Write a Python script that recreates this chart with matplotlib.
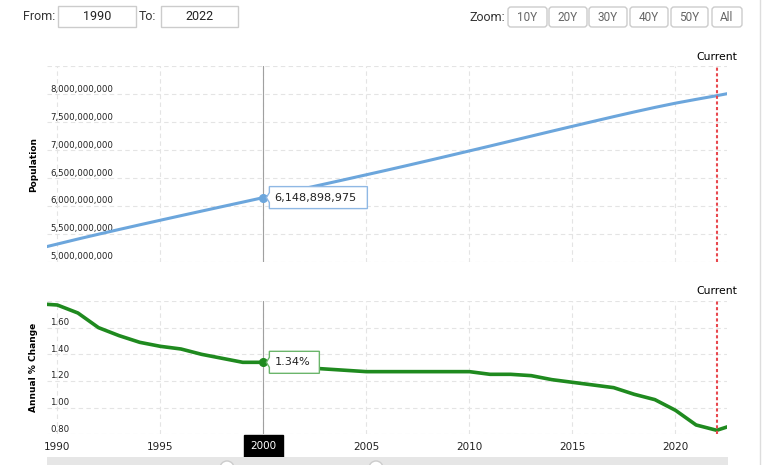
import matplotlib
matplotlib.use('Agg')
import matplotlib.pyplot as plt
from matplotlib.patches import Polygon, FancyBboxPatch, Rectangle, Circle
from matplotlib.transforms import Affine2D, IdentityTransform, offset_copy

# world population (UN WPP 2022) and annual % change
years = list(range(1989, 2024))
population = [
    5227000000, 5316175862, 5406245000, 5492686000, 5577433000, 5660727000,
    5743219454, 5825145000, 5906481000, 5987312000, 6067758000, 6148898975,
    6230746000, 6312407000, 6393898000, 6475751000, 6558176119, 6641416000,
    6725949000, 6811597000, 6898306000, 6985603000, 7073125000, 7161698000,
    7250593000, 7339013000, 7426598000, 7513474000, 7599822000, 7683790000,
    7764951000, 7840953000, 7909295151, 7975105156, 8045311447,
]
annual_change = [
    1.78, 1.77, 1.71, 1.60, 1.54, 1.49, 1.46, 1.44, 1.40, 1.37, 1.34,
    1.34, 1.32, 1.30, 1.29, 1.28, 1.27, 1.27, 1.27, 1.27, 1.27,
    1.27, 1.25, 1.25, 1.24, 1.21, 1.19, 1.17, 1.15, 1.10, 1.06,
    0.98, 0.87, 0.83, 0.88,
]
x_ticks = [1990, 1995, 2000, 2005, 2010, 2015, 2020]
pop_ticks = [5000000000, 5500000000, 6000000000, 6500000000, 7000000000,
             7500000000, 8000000000, 8500000000]
chg_ticks = [0.80, 1.00, 1.20, 1.40, 1.60, 1.80]
hover_year = 2000
current_year = 2022
from_year, to_year = '1990', '2022'
zoom_buttons = ['10Y', '20Y', '30Y', '40Y', '50Y', 'All']

W, H = 768, 465
BLUE = '#6ca6dc'
GREEN = '#1f8a1f'
RED = '#e8484e'
GRID = '#e4e4e4'
TXT = '#222222'

fig = plt.figure(figsize=(W / 100, H / 100), dpi=100)
fig.patch.set_facecolor('white')


def px_rect(x0, y0, x1, y1):
    return [x0 / W, 1 - y1 / H, (x1 - x0) / W, (y1 - y0) / H]


ax_pop = fig.add_axes(px_rect(47, 66.4, 727, 261.7))
ax_chg = fig.add_axes(px_rect(47, 301, 727, 434.3))

for ax, ticks in ((ax_pop, pop_ticks), (ax_chg, chg_ticks)):
    ax.set_xlim(1989.5, 2022.5)
    ax.set_ylim(ticks[0], ticks[-1])
    ax.set_xticks(x_ticks)
    ax.set_yticks(ticks)
    ax.grid(True, ls=(0, (4, 3)), color=GRID, lw=0.8)
    ax.set_axisbelow(True)
    for s in ax.spines.values():
        s.set_visible(False)
    ax.tick_params(length=0, labelleft=False)
    ax.axvline(hover_year, color='#a0a0a0', lw=0.8, zorder=1.5)
    ax.axvline(current_year, color=RED, lw=1.5, ls=(0, (1.5, 1.2)), zorder=4)
    ax.annotate('Current', xy=(current_year, 1), xycoords=('data', 'axes fraction'),
                xytext=(0, 9.5), textcoords='offset pixels', ha='center', va='center',
                fontsize=7.8, color='black')
    # y labels sit inside the plot, a bit above their grid line
    tr = offset_copy(ax.get_yaxis_transform(), fig=fig, x=3, y=5, units='dots')
    for v in ticks[:-1]:
        lab = f'{v:,}' if ax is ax_pop else f'{v:.2f}'
        ax.text(0, v, lab, transform=tr, ha='left', va='center', fontsize=6.2, color=TXT)

ax_pop.tick_params(labelbottom=False)
ax_chg.tick_params(labelbottom=True, pad=5.5, labelsize=7.5, labelcolor=TXT)

ax_pop.plot(years, population, color=BLUE, lw=2.2, zorder=3, solid_capstyle='butt')
ax_chg.plot(years, annual_change, color=GREEN, lw=2.6, zorder=3, solid_joinstyle='round')

i = years.index(hover_year)
ax_pop.plot(hover_year, population[i], 'o', ms=5.5, color=BLUE, zorder=5)
ax_chg.plot(hover_year, annual_change[i], 'o', ms=5.5, color=GREEN, zorder=5)

ax_pop.set_ylabel('Population', fontsize=6.5, fontweight='bold', color='black')
ax_pop.yaxis.set_label_coords(-9 / 680, 0.5)
ax_chg.set_ylabel('Annual % Change', fontsize=6.5, fontweight='bold', color='black')
ax_chg.yaxis.set_label_coords(-9 / 680, 0.5)

# highlighted x label under the crosshair
ax_chg.annotate(str(hover_year), xy=(hover_year, 0), xycoords=('data', 'axes fraction'),
                xytext=(0, -11.5), textcoords='offset pixels', ha='center', va='center',
                fontsize=7.5, color='white', zorder=10,
                bbox=dict(boxstyle='square,pad=0.6', fc='black', ec='black'))


def callout(ax, x, y, label, edge, width):
    px, py = ax.transData.transform((x, y))
    left, h = px + 6, 11
    verts = [(left, py + h), (left + width, py + h), (left + width, py - h),
             (left, py - h), (left, py - 5), (px + 3, py), (left, py + 5)]
    fig.add_artist(Polygon(verts, closed=True, fc='white', ec=edge, lw=1,
                           transform=IdentityTransform(), zorder=6))
    fig.add_artist(plt.Text(left + 5, py, label, fontsize=8.1, color='#222222',
                            va='center', ha='left', transform=IdentityTransform(), zorder=7))


callout(ax_pop, hover_year, population[i], f'{population[i]:,}', '#8fb8e4', 98)
callout(ax_chg, hover_year, annual_change[i], f'{annual_change[i]:.2f}%', '#6bb56b', 50)

# page chrome: range inputs, zoom buttons, navigator bar (pixel coords, y down)
ui = Affine2D().scale(1, -1).translate(0, H)


def ui_box(x0, y0, x1, y1, rounded=False):
    style = 'round,pad=0,rounding_size=3' if rounded else 'square,pad=0'
    fig.add_artist(FancyBboxPatch((x0, y0), x1 - x0, y1 - y0, boxstyle=style,
                                  fc='white', ec='#cccccc', lw=1, transform=ui))


def ui_text(x, y, s, ha='left', color='#333333', size=9):
    fig.add_artist(plt.Text(x, y, s, ha=ha, va='center', fontsize=size, color=color,
                            family='Roboto', transform=ui))


ui_text(23, 16.5, 'From:')
ui_box(58, 6, 136, 27)
ui_text(97, 16.5, from_year, ha='center', color='#222222')
ui_text(139, 16.5, 'To:')
ui_box(161, 6, 238, 27)
ui_text(199.5, 16.5, to_year, ha='center', color='#222222')

ui_text(505, 17, 'Zoom:', ha='right')
btn_x = [508, 549, 589, 630, 671, 712]
btn_w = [39, 38, 38, 38, 37, 30]
for lab, bx, bw in zip(zoom_buttons, btn_x, btn_w):
    ui_box(bx, 7, bx + bw, 27, rounded=True)
    ui_text(bx + bw / 2, 17, lab, ha='center', color='#666666', size=8.5)

fig.add_artist(Rectangle((47, 457), 681, 10, fc='#e6e6e6', ec='none', transform=ui))
for hx in (227, 376):
    fig.add_artist(Circle((hx, 468), 7, fc='white', ec='#cccccc', lw=1, transform=ui))
fig.add_artist(plt.Line2D([760, 760], [0, H], color='#dddddd', lw=1, transform=ui))

fig.savefig('out.png', dpi=100)
